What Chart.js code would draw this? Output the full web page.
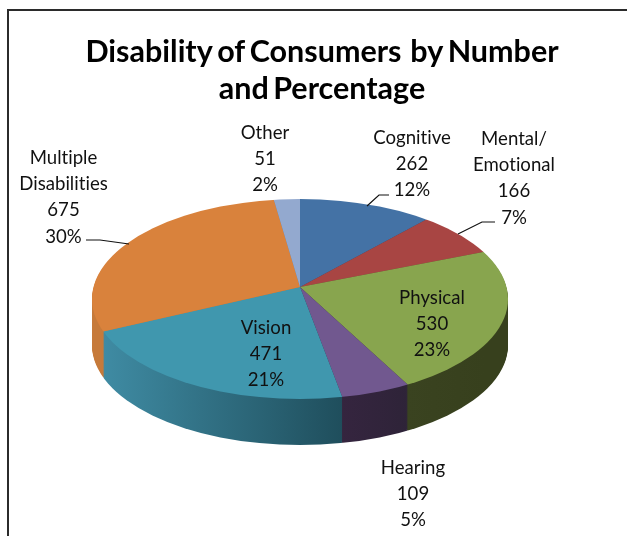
<!DOCTYPE html>
<html>
<head>
<meta charset="utf-8">
<title>Disability of Consumers by Number and Percentage</title>
<script src="https://cdn.jsdelivr.net/npm/chart.js@4"></script>
<style>
    html, body { margin: 0; height: 100%; background: #fff; overflow: hidden; }
    #frame { position: absolute; left: 7px; top: 9px; width: 800px; height: 800px; border: 2px solid #2b2b2b; }
    #holder { position: absolute; left: 0; top: 0; width: 627px; height: 536px; }
</style>
</head>
<body>
<div id="frame"></div>
<div id="holder"><canvas id="disabilityChart" width="627" height="536"></canvas></div>
<script>
const categories = ['Cognitive', 'Mental/\nEmotional', 'Physical', 'Hearing', 'Vision', 'Multiple\nDisabilities', 'Other'];
const consumers = [262, 166, 530, 109, 471, 675, 51];
const percents = [12, 7, 23, 5, 21, 30, 2];
const titleLines = ['Disability of Consumers  by Number', 'and Percentage'];
const topColors = ['#4472a5', '#a84543', '#88a54e', '#71588f', '#4097ae', '#d9823c', '#93a9cf'];
// wall shading, left edge then right edge of each slice
const wallColors = [
    ['#2c4a6e', '#2c4a6e'], ['#6e2d2c', '#6e2d2c'], ['#3a4320', '#37401d'], ['#35253f', '#2e2338'],
    ['#3f8ba3', '#1f4e5c'], ['#c67a3a', '#b87236'], ['#6b7d9c', '#6b7d9c']
];

// rim of the tilted pie, and where the slices meet (a little above the rim's centre)
const rim = { x: 300, y: 299, rx: 208, ry: 100 };
const apex = { x: 300, y: 287 };
const tilt = 0.475;
const depth = 46;

// label centres (middle of the first line) and line pitch
const labelSpots = [[412, 138], [514, 139], [432, 298], [413, 468], [266, 328], [63.5, 158], [265, 133]];
const linePitch = 26;
const leaders = [
    [[389, 195], [379, 195], [367, 206]],
    [[495, 222], [482, 222], [458, 234]],
    null, null, null,
    [[86, 240], [100, 240], [129, 244]],
    null
];

function clipRim(ctx, dy) {
    ctx.beginPath();
    ctx.ellipse(rim.x, rim.y + dy, rim.rx, rim.ry, 0, 0, Math.PI * 2);
    ctx.clip();
}

function placeSlices(ctx, arc, dy) {
    ctx.translate(apex.x, apex.y + dy);
    ctx.scale(1, tilt);
    ctx.translate(-arc.x, -arc.y);
}

// x where a slice edge leaves the rim
function rimX(angle) {
    const dx = Math.cos(angle), dy = Math.sin(angle) * tilt;
    const oy = apex.y - rim.y;
    const a = dx * dx / (rim.rx * rim.rx) + dy * dy / (rim.ry * rim.ry);
    const b = 2 * oy * dy / (rim.ry * rim.ry);
    const c = oy * oy / (rim.ry * rim.ry) - 1;
    const t = (-b + Math.sqrt(b * b - 4 * a * c)) / (2 * a);
    return apex.x + dx * t;
}

const tiltedPie = {
    id: 'tiltedPie',
    beforeDraw(chart) {
        // tight word gaps in the heading
        chart.ctx.wordSpacing = '-3px';
    },
    beforeDatasetDraw(chart) {
        const { ctx } = chart;
        ctx.wordSpacing = '0px';
        const arcs = chart.getDatasetMeta(0).data;
        // stacked copies of the pie, from the floor up, make the side wall
        for (let dy = depth; dy > 0; dy--) {
            arcs.forEach((arc, i) => {
                const x0 = rimX(arc.startAngle), x1 = rimX(arc.endAngle);
                const left = Math.min(x0, x1), right = Math.max(x0, x1);
                const shift = arc.x - apex.x;
                const wall = ctx.createLinearGradient(left + shift, 0, right + shift + 1, 0);
                wall.addColorStop(0, wallColors[i][0]);
                wall.addColorStop(1, wallColors[i][1]);
                const topOptions = arc.options;
                ctx.save();
                clipRim(ctx, dy);
                placeSlices(ctx, arc, dy);
                arc.options = { ...topOptions, backgroundColor: wall };
                arc.draw(ctx);
                arc.options = topOptions;
                ctx.restore();
            });
        }
        ctx.save();
        clipRim(ctx, 0);
        placeSlices(ctx, arcs[0], 0);
    },
    afterDatasetDraw(chart) {
        chart.ctx.restore();
    },
    afterDraw(chart) {
        const { ctx } = chart;
        ctx.save();
        ctx.fillStyle = '#111';
        ctx.font = '18.6px Lato, "Open Sans", sans-serif';
        // a non-zero spacing turns off the ti/tt ligatures
        ctx.letterSpacing = '0.01px';
        ctx.wordSpacing = '0px';
        ctx.textAlign = 'center';
        ctx.textBaseline = 'middle';
        categories.forEach((name, i) => {
            const lines = [...name.split('\n'), String(consumers[i]), percents[i] + '%'];
            const [x, y] = labelSpots[i];
            lines.forEach((line, n) => ctx.fillText(line, x, y + n * linePitch + (n === 3 ? 1 : 0)));
        });
        ctx.strokeStyle = '#111';
        ctx.lineWidth = 1.2;
        leaders.forEach(points => {
            if (!points) return;
            ctx.beginPath();
            points.forEach(([x, y], n) => (n ? ctx.lineTo(x, y) : ctx.moveTo(x, y)));
            ctx.stroke();
        });
        ctx.restore();
    }
};

new Chart(document.getElementById('disabilityChart'), {
    type: 'pie',
    data: {
        labels: categories,
        datasets: [{
            data: consumers,
            backgroundColor: topColors,
            borderWidth: 0,
            radius: 240
        }]
    },
    options: {
        responsive: false,
        animation: false,
        layout: { padding: { left: 17 } },
        plugins: {
            legend: { display: false },
            tooltip: { enabled: false },
            title: {
                display: true,
                text: titleLines,
                color: '#000',
                font: { family: 'Lato, "Open Sans", sans-serif', size: 30.5, weight: 'bold' },
                lineHeight: 1.2,
                padding: { top: 34, bottom: 0 }
            }
        }
    },
    plugins: [tiltedPie]
});
</script>
</body>
</html>
